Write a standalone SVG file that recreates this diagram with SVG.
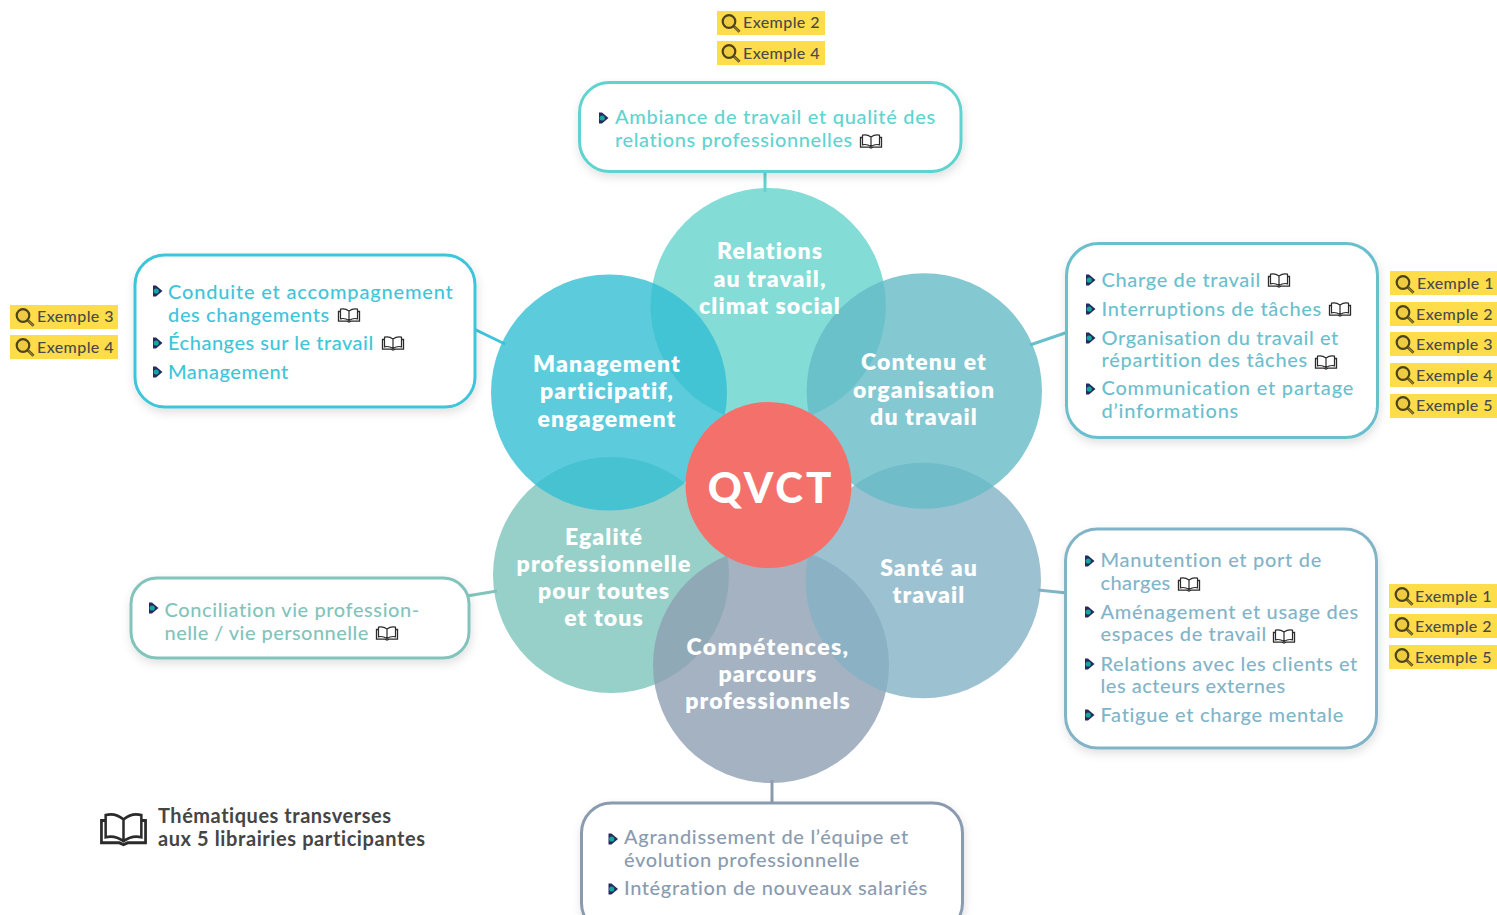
<svg xmlns="http://www.w3.org/2000/svg" width="1497" height="915" viewBox="0 0 1497 915">
<style>
text{font-family:"Lato","Noto Sans","Liberation Sans",sans-serif;font-variant-ligatures:none}
.box{fill:#fff;stroke-width:3;filter:url(#sh)}
.c{opacity:.8}
.t{font-size:20px;font-weight:500;letter-spacing:.7px}
.h{font-size:23px;font-weight:800;fill:#fff;text-anchor:middle;letter-spacing:1.1px}
.ex{font-size:16px;font-weight:500;fill:#4a4a4a;letter-spacing:.4px}
.chip{fill:#ffdc4a}
.ln{stroke-width:3;fill:none}
.legend{font-size:20px;font-weight:700;fill:#454545}
</style>
<defs>
<filter id="sh" x="-10%" y="-15%" width="120%" height="135%"><feDropShadow dx="1" dy="4" stdDeviation="5" flood-color="#000" flood-opacity=".12"/></filter>
<g id="bullet"><path d="M-5-5.500H-2L4.500 0-2 5.500H-5Z" fill="#27295f"/><circle cx="-1.800" cy="0" r="2.600" fill="#12a89c"/></g>
<g id="book" fill="none" stroke="#2b2b2b" stroke-width="1.200"><path d="M0-4C-3-6.200-6-6.500-8.500-5.800V3.800C-6 3.200-3 3.500 0 5.500 3 3.500 6 3.200 8.500 3.800V-5.800C6-6.500 3-6.200 0-4V5.500"/><path d="M-8.500-3.500H-10.500V6.200H-2L0 7 2 6.200H10.500V-3.500H8.500" stroke-width="1.300"/></g>
<g id="loupe" fill="none"><circle cx="-2" cy="-1.500" r="6.300" fill="#e2bd3a" fill-opacity=".55" stroke="#4b431c" stroke-width="2.200"/><path d="M2.800 3.200L8.500 8.800" stroke="#5a4f20" stroke-width="2.800"/><path d="M3.500 4L8 8.400" stroke="#d8b53a" stroke-width=".8"/></g>
</defs>
<rect width="1497" height="915" fill="#fff"/>

<g id="connectors" class="ln">
<path d="M765 170V192" stroke="#5fd4cf"/>
<path d="M1030 345L1068 332" stroke="#6bbfcd"/>
<path d="M474 329L505 344" stroke="#3ec5d9"/>
<path d="M467 596L497 591" stroke="#82c4bc"/>
<path d="M1038 590L1067 593" stroke="#82b4c8"/>
<path d="M772 780V805" stroke="#8a9bb0"/>
</g>

<g id="circles">
<g id="c-relations"><circle class="c" cx="768.200" cy="305.700" r="117.700" fill="#65d3cd"/></g>
<g id="c-egalite"><circle class="c" cx="611" cy="575" r="118" fill="#7dc3bc"/></g>
<g id="c-competences"><circle class="c" cx="771" cy="665" r="118" fill="#8f9fb3"/></g>
<g id="c-sante"><circle class="c" cx="923.300" cy="580.500" r="117.700" fill="#83b2c4"/></g>
<g id="c-contenu"><circle class="c" cx="924.300" cy="391" r="117.700" fill="#65bac7"/></g>
<g id="c-management"><circle class="c" cx="609" cy="392.500" r="118" fill="#33bed3"/></g>
</g>
<g id="qvct"><circle cx="768.500" cy="485" r="83" fill="#f4716b"/><text x="771" y="503" font-size="42" font-weight="900" fill="#fff" text-anchor="middle" letter-spacing="3">QVCT</text></g>

<g id="circle-labels">
<text class="h"><tspan x="770" y="259">Relations</tspan><tspan x="770" y="287">au travail,</tspan><tspan x="770" y="314">climat social</tspan></text>
<text class="h"><tspan x="607" y="372">Management</tspan><tspan x="607" y="399">participatif,</tspan><tspan x="607" y="427">engagement</tspan></text>
<text class="h"><tspan x="924" y="370">Contenu et</tspan><tspan x="924" y="398">organisation</tspan><tspan x="924" y="425">du travail</tspan></text>
<text class="h"><tspan x="604" y="545">Egalité</tspan><tspan x="604" y="572">professionnelle</tspan><tspan x="604" y="599">pour toutes</tspan><tspan x="604" y="626">et tous</tspan></text>
<text class="h"><tspan x="929" y="576">Santé au</tspan><tspan x="929" y="603">travail</tspan></text>
<text class="h"><tspan x="768" y="655" letter-spacing="1.350">Compétences,</tspan><tspan x="768" y="682">parcours</tspan><tspan x="768" y="709">professionnels</tspan></text>
</g>

<g id="box-relations">
<rect class="box" x="579.500" y="82.500" width="381.500" height="89" rx="30" stroke="#5fd4cf"/>
<use href="#bullet" x="604" y="118"/>
<g fill="#5fd4cf">
<text class="t" x="615" y="124" textLength="321">Ambiance de travail et qualité des</text>
<text class="t" x="615" y="147" textLength="238">relations professionnelles</text>
</g>
<use href="#book" x="871" y="141"/>
</g>
<g id="box-contenu">
<rect class="box" x="1066.500" y="243.500" width="311" height="194" rx="32" stroke="#6bbfcd"/>
<g fill="#6bbfcd">
<text class="t" x="1101.500" y="287" textLength="159.500">Charge de travail</text>
<text class="t" x="1101.500" y="316" textLength="220.500">Interruptions de tâches</text>
<text class="t" x="1101.500" y="344.500" textLength="237.500">Organisation du travail et</text>
<text class="t" x="1101.500" y="367" textLength="206.500">répartition des tâches</text>
<text class="t" x="1101.500" y="395" textLength="252.500">Communication et partage</text>
<text class="t" x="1101.500" y="418" textLength="137.500">d’informations</text>
</g>
<use href="#bullet" x="1091" y="280"/><use href="#bullet" x="1091" y="309"/><use href="#bullet" x="1091" y="338"/><use href="#bullet" x="1091" y="389"/>
<use href="#book" x="1279" y="280"/><use href="#book" x="1340" y="309"/><use href="#book" x="1326" y="362"/>
</g>
<g id="box-management">
<rect class="box" x="135" y="255" width="340" height="152" rx="30" stroke="#3ec5d9"/>
<g fill="#3ec5d9">
<text class="t" x="168" y="299" textLength="285.500">Conduite et accompagnement</text>
<text class="t" x="168" y="321.500" textLength="162">des changements</text>
<text class="t" x="168" y="350" textLength="206">Échanges sur le travail</text>
<text class="t" x="168" y="379" textLength="121">Management</text>
</g>
<use href="#bullet" x="158" y="291"/><use href="#bullet" x="158" y="343"/><use href="#bullet" x="158" y="372"/>
<use href="#book" x="349" y="315"/><use href="#book" x="393" y="343"/>
</g>
<g id="box-egalite">
<rect class="box" x="131" y="578" width="338" height="80" rx="26" stroke="#82c4bc"/>
<g fill="#82c4bc">
<text class="t" x="164.500" y="617" textLength="255.500">Conciliation vie profession-</text>
<text class="t" x="164.500" y="640" textLength="204.500">nelle / vie personnelle</text>
</g>
<use href="#bullet" x="154" y="608"/><use href="#book" x="387" y="633"/>
</g>
<g id="box-sante">
<rect class="box" x="1065.500" y="529" width="311" height="219" rx="32" stroke="#82b4c8"/>
<g fill="#82b4c8">
<text class="t" x="1100.500" y="567" textLength="221.500">Manutention et port de</text>
<text class="t" x="1100.500" y="590" textLength="70.500">charges</text>
<text class="t" x="1100.500" y="619" textLength="258.500">Aménagement et usage des</text>
<text class="t" x="1100.500" y="641" textLength="166.500">espaces de travail</text>
<text class="t" x="1100.500" y="670.500" textLength="257.500">Relations avec les clients et</text>
<text class="t" x="1100.500" y="693" textLength="185.500">les acteurs externes</text>
<text class="t" x="1100.500" y="721.500" textLength="243.500">Fatigue et charge mentale</text>
</g>
<use href="#bullet" x="1090" y="561"/><use href="#bullet" x="1090" y="612"/><use href="#bullet" x="1090" y="664"/><use href="#bullet" x="1090" y="715"/>
<use href="#book" x="1189" y="584"/><use href="#book" x="1284" y="636"/>
</g>
<g id="box-competences">
<rect class="box" x="581.500" y="803" width="381" height="130" rx="30" stroke="#8a9bb0"/>
<g fill="#8a9bb0">
<text class="t" x="624" y="844" textLength="285">Agrandissement de l’équipe et</text>
<text class="t" x="624" y="867" textLength="236">évolution professionnelle</text>
<text class="t" x="624" y="895" textLength="304">Intégration de nouveaux salariés</text>
</g>
<use href="#bullet" x="613.500" y="839"/><use href="#bullet" x="613.500" y="889"/>
</g>

<g id="examples-top">
<rect class="chip" x="717" y="11" width="108" height="24"/><use href="#loupe" x="731" y="23"/><text class="ex" x="743" y="28">Exemple 2</text>
<rect class="chip" x="717" y="41" width="108" height="24"/><use href="#loupe" x="731" y="53"/><text class="ex" x="743" y="59">Exemple 4</text>
</g>
<g id="examples-left">
<rect class="chip" x="10" y="305" width="108" height="24"/><use href="#loupe" x="25" y="317"/><text class="ex" x="37" y="322">Exemple 3</text>
<rect class="chip" x="10" y="335" width="108" height="24"/><use href="#loupe" x="25" y="347"/><text class="ex" x="37" y="353">Exemple 4</text>
</g>
<g id="examples-right">
<rect class="chip" x="1390" y="271" width="107" height="24"/><use href="#loupe" x="1405" y="284"/><text class="ex" x="1417" y="289">Exemple 1</text>
<rect class="chip" x="1390" y="302" width="107" height="24"/><use href="#loupe" x="1405" y="314"/><text class="ex" x="1416" y="320">Exemple 2</text>
<rect class="chip" x="1390" y="332" width="107" height="24"/><use href="#loupe" x="1405" y="344"/><text class="ex" x="1416" y="350">Exemple 3</text>
<rect class="chip" x="1390" y="363" width="107" height="24"/><use href="#loupe" x="1405" y="375"/><text class="ex" x="1416" y="381">Exemple 4</text>
<rect class="chip" x="1390" y="394" width="107" height="24"/><use href="#loupe" x="1405" y="405"/><text class="ex" x="1416" y="411">Exemple 5</text>
</g>
<g id="examples-right2">
<rect class="chip" x="1389" y="584" width="108" height="24"/><use href="#loupe" x="1404" y="596"/><text class="ex" x="1415" y="602">Exemple 1</text>
<rect class="chip" x="1389" y="614" width="108" height="24"/><use href="#loupe" x="1404" y="626"/><text class="ex" x="1415" y="632">Exemple 2</text>
<rect class="chip" x="1389" y="645" width="108" height="24"/><use href="#loupe" x="1404" y="657"/><text class="ex" x="1415" y="663">Exemple 5</text>
</g>
<g id="legend">
<g transform="translate(123.500 828.500) scale(2.100 2.300)"><use href="#book"/></g>
<text class="legend" x="158" y="823" textLength="233">Thématiques transverses</text>
<text class="legend" x="158" y="846" textLength="267">aux 5 librairies participantes</text>
</g>
</svg>
